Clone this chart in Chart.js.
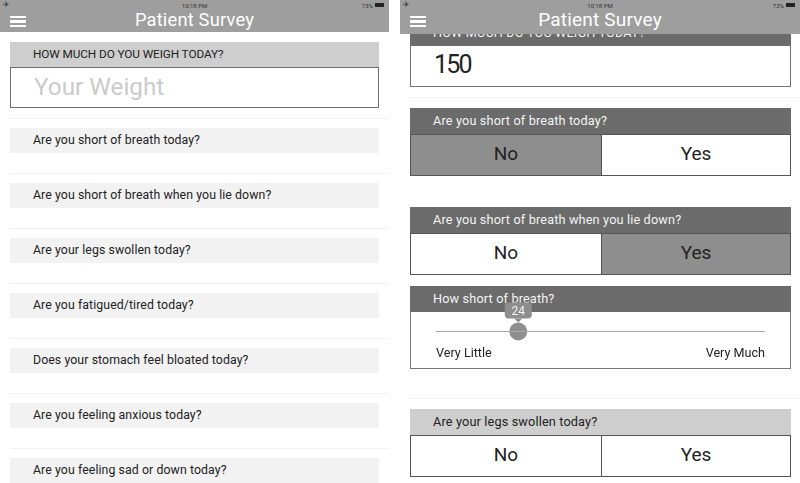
<!DOCTYPE html>
<html>
<head>
<meta charset="utf-8">
<title>Patient Survey</title>
<script src="https://cdn.jsdelivr.net/npm/chart.js@4"></script>
<style>
  html, body { margin: 0; padding: 0; background: #fff; }
  body { width: 800px; height: 483px; overflow: hidden; position: relative; font-family: Roboto, sans-serif; color: #222; }
  .abs { position: absolute; box-sizing: border-box; }
  .appbar { top: 0; height: 32px; background: #9e9e9e; color: #fff; z-index: 5; }
  .appbar .title { position: absolute; left: 0; right: 0; top: 10px; text-align: center; font-size: 18.3px; line-height: 20px; letter-spacing: .2px; }
  #rightBar .title { font-size: 19px; }
  .appbar .time { position: absolute; left: 0; right: 0; top: 2px; text-align: center; font-size: 6px; line-height: 7px; color: #333; }
  .appbar .plane { position: absolute; left: 3px; top: 1px; font: 8px/8px "DejaVu Sans"; color: #333; }
  .appbar .pct { position: absolute; right: 16px; top: 2px; font-size: 6px; line-height: 7px; color: #333; }
  .appbar .batt { position: absolute; right: 5px; top: 3px; width: 9px; height: 4px; background: #222; }
  .burger { position: absolute; left: 10px; top: 16px; width: 16px; height: 11px;
            border-top: 2px solid #fff; border-bottom: 2px solid #fff; box-sizing: border-box; }
  .burger::after { content: ""; position: absolute; left: 0; right: 0; top: 2px; height: 3px; background: #fff; }
  .rule { height: 1px; background: #f1f1f1; }
  .bar { height: 25px; padding-left: 23px; font-size: 12.3px; line-height: 25px; letter-spacing: .09px; white-space: nowrap; }
  #right .bar { font-size: 12.7px; letter-spacing: .15px; }
  .bar.caps { font-size: 11.8px; letter-spacing: -.1px; }
  .bar.idle { background: #f2f2f2; }
  .bar.open { background: #cecece; }
  .bar.done { background: #6b6b6b; color: #f4f4f4; }
  .input { height: 41px; border: 1px solid #707070; background: #fff; padding-left: 23px; font-size: 24.3px; line-height: 37px; }
  .input.empty { color: #cbcbcb; }
  .input.filled { font-size: 25px; line-height: 38px; letter-spacing: -1.8px; }
  .btn { height: 42px; border: 1px solid #555; background: #fff; text-align: center; font-size: 19px; line-height: 38px; }
  .btn.on { background: #8e8e8e; }
  #sliderBox { left: 410px; top: 312px; width: 381px; height: 57px; border: 1px solid #777; border-top: 0; background: #fff; }
  #sliderWrap { left: 411px; top: 294px; width: 363px; height: 73px; z-index: 2; }
</style>
</head>
<body>

<div class="abs appbar" style="left:0;width:389px">
  <div class="plane">✈</div><div class="time">10:18 PM</div><div class="pct">73%</div><div class="batt"></div>
  <div class="burger"></div><div class="title">Patient Survey</div>
</div>
<div class="abs appbar" id="rightBar" style="left:400px;width:400px;height:34px;top:0">
  <div class="plane">✈</div><div class="time">10:18 PM</div><div class="pct">73%</div><div class="batt"></div>
  <div class="burger"></div><div class="title">Patient Survey</div>
</div>

<div id="left"></div>
<div id="right"></div>

<div class="abs" id="sliderBox"></div>
<div class="abs" id="sliderWrap"><canvas id="sliderChart"></canvas></div>

<script>
/* ---- survey content ---- */
const weightQuestion = 'HOW MUCH DO YOU WEIGH TODAY?';
const weightPlaceholder = 'Your Weight';
const weightAnswer = '150';
const questions = [
    'Are you short of breath today?',
    'Are you short of breath when you lie down?',
    'Are your legs swollen today?',
    'Are you fatigued/tired today?',
    'Does your stomach feel bloated today?',
    'Are you feeling anxious today?',
    'Are you feeling sad or down today?'
];
const choices = ['No', 'Yes'];
const sliderQuestion = 'How short of breath?';

/* ---- slider chart data ---- */
const sliderValues = [24];
const sliderTrack = [-2, 102];      // thumb stays inset from the track ends
const sliderLabels = ['Very Little', 'Very Much'];

function addEl(parent, cls, left, top, width, text) {
    const el = document.createElement('div');
    el.className = 'abs ' + cls;
    el.style.left = left + 'px';
    el.style.top = top + 'px';
    el.style.width = width + 'px';
    if (text) el.textContent = text;
    parent.appendChild(el);
    return el;
}

/* left phone: nothing answered yet */
function buildLeft() {
    const root = document.getElementById('left');
    addEl(root, 'bar caps open', 10, 42, 369, weightQuestion).style.height = '26px';
    addEl(root, 'input empty', 10, 67, 369, weightPlaceholder);
    questions.forEach((q, i) => {
        addEl(root, 'rule', 10, 118 + i * 55, 379);
        addEl(root, 'bar idle', 10, 128 + i * 55, 369, q);
    });
}

/* right phone: scrolled down a little, answers filled in */
function buildRight() {
    const root = document.getElementById('right');
    addEl(root, 'bar done', 410, 20, 381, weightQuestion);
    addEl(root, 'input filled', 410, 45, 381, weightAnswer).style.height = '42px';
    addEl(root, 'rule', 410, 97, 390);

    yesNo(root, questions[0], 108, 'done', 0);
    yesNo(root, questions[1], 207, 'done', 1);

    const head = addEl(root, 'bar done', 410, 286, 381, sliderQuestion);
    head.style.height = '26px';

    addEl(root, 'rule', 410, 398, 390);
    yesNo(root, questions[2], 409, 'open', -1);
}

function yesNo(root, text, top, state, picked) {
    addEl(root, 'bar ' + state, 410, top, 381, text).style.height = '26px';
    addEl(root, 'btn' + (picked === 0 ? ' on' : ''), 410, top + 26, 192, choices[0]);
    addEl(root, 'btn' + (picked === 1 ? ' on' : ''), 601, top + 26, 190, choices[1]);
}

/* small bubble over the thumb showing the current value */
const bubblePlugin = {
    id: 'bubble',
    afterDatasetsDraw(chart) {
        const pt = chart.getDatasetMeta(1).data[0];
        const ctx = chart.ctx;
        const w = 27, h = 16;
        const top = pt.y - 29;
        ctx.save();
        ctx.fillStyle = '#8e8e8e';
        ctx.beginPath();
        ctx.roundRect(pt.x - w / 2, top, w, h, 4);
        ctx.fill();
        ctx.beginPath();
        ctx.moveTo(pt.x - 4, top + h);
        ctx.lineTo(pt.x + 4, top + h);
        ctx.lineTo(pt.x, top + h + 4);
        ctx.fill();
        ctx.fillStyle = '#f4f4f4';
        ctx.font = '12px Roboto';
        ctx.textAlign = 'center';
        ctx.textBaseline = 'middle';
        ctx.fillText(String(sliderValues[0]), pt.x, top + h / 2 + 1);
        ctx.restore();
    }
};

function renderSlider() {
    new Chart(document.getElementById('sliderChart'), {
        type: 'scatter',
        data: {
            datasets: [
                {
                    data: sliderTrack.map(v => ({ x: v, y: 0 })),
                    showLine: true,
                    borderColor: '#a9a9a9',
                    borderWidth: 1,
                    pointRadius: 0
                },
                {
                    data: sliderValues.map(v => ({ x: v, y: 0 })),
                    backgroundColor: '#8e8e8e',
                    pointRadius: 9,
                    pointBorderWidth: 0,
                    clip: false
                }
            ]
        },
        options: {
            responsive: true,
            maintainAspectRatio: false,
            animation: false,
            layout: { padding: { left: 25, right: 2, top: 27, bottom: 4 } },
            plugins: { legend: { display: false }, tooltip: { enabled: false } },
            scales: {
                x: {
                    min: sliderTrack[0],
                    max: sliderTrack[1],
                    afterBuildTicks: scale => { scale.ticks = sliderTrack.map(v => ({ value: v })); },
                    grid: { display: false, drawTicks: false },
                    border: { display: false },
                    ticks: {
                        callback: (v, i) => sliderLabels[i],
                        align: 'inner',
                        autoSkip: false,
                        maxRotation: 0,
                        padding: 4,
                        color: '#222',
                        font: { family: 'Roboto', size: 12.6 }
                    }
                },
                y: { display: false, min: -1, max: 1 }
            }
        },
        plugins: [bubblePlugin]
    });
}

buildLeft();
buildRight();
renderSlider();
</script>
</body>
</html>
